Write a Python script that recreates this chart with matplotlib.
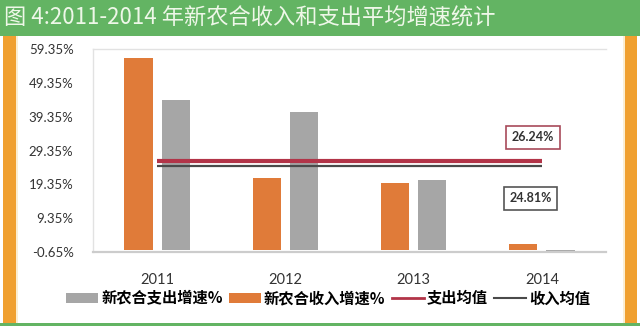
import matplotlib
matplotlib.use("Agg")
import matplotlib.pyplot as plt
from matplotlib.patches import Rectangle, Patch
from matplotlib.lines import Line2D

plt.rcParams['font.family'] = ['Noto Sans CJK SC', 'DejaVu Sans']

# data
years = ['2011', '2012', '2013', '2014']
income_growth = [56.8, 21.1, 19.7, 1.64]      # 新农合收入增速%
spend_growth = [44.4, 40.6, 20.6, -0.65]      # 新农合支出增速%
spend_avg = 26.24
income_avg = 24.81
y_ticks = [-0.65, 9.35, 19.35, 29.35, 39.35, 49.35, 59.35]

title = '图 4:2011-2014 年新农合收入和支出平均增速统计'

GREEN = '#63b463'
ORANGE_FRAME = '#f0a030'
ORANGE = '#e07b39'
GRAY = '#a6a6a6'
RED = '#b23448'
DARK = '#4a4a4a'

W, H = 640, 326
fig = plt.figure(figsize=(W / 100, H / 100), dpi=100)
fig.patch.set_facecolor('white')

def px_rect(x0, y0, x1, y1, color, z=0):
    fig.patches.append(Rectangle((x0 / W, 1 - y1 / H), (x1 - x0) / W, (y1 - y0) / H,
                                 transform=fig.transFigure, facecolor=color,
                                 edgecolor='none', zorder=z))

# frame: green header/footer, orange side strips
px_rect(0, 0, W, 36, GREEN)
px_rect(0, 323, W, H, GREEN)
px_rect(3, 36, 16, 323, ORANGE_FRAME)
px_rect(16, 36, 18, 323, '#fbeed2')
px_rect(625, 36, 637, 323, ORANGE_FRAME)
px_rect(623, 36, 625, 323, '#fbeed2')

fig.text(4 / W, 1 - 18 / H, title, color='#eef7e8', fontsize=16,
         ha='left', va='center')

ax = fig.add_axes([93 / W, 1 - 252 / H, 513 / W, 203 / H])
ax.set_facecolor('white')

x = range(len(years))
bw = 0.22
off = 0.145
ax.bar([i - off for i in x], income_growth, width=bw, color=ORANGE, zorder=2)
ax.bar([i + off for i in x], spend_growth, width=bw, color=GRAY, zorder=2)

ax.plot([0, 3], [spend_avg, spend_avg], color=RED, lw=3.0, zorder=3,
        solid_capstyle='butt')
ax.plot([0, 3], [income_avg, income_avg], color=DARK, lw=1.6, zorder=3,
        solid_capstyle='butt')

ax.text(2.93, 33.2, f'{spend_avg:.2f}%', family='Lato', fontweight='bold',
        fontsize=9, color='#333333', ha='center', va='center', zorder=4,
        bbox=dict(boxstyle='square,pad=0.45', facecolor='white',
                  edgecolor='#a84a5a', linewidth=1.2))
ax.text(2.91, 15.2, f'{income_avg:.2f}%', family='Lato', fontweight='bold',
        fontsize=9, color='#333333', ha='center', va='center', zorder=4,
        bbox=dict(boxstyle='square,pad=0.45', facecolor='white',
                  edgecolor='#555555', linewidth=1.2))

ax.set_xlim(-0.5, 3.5)
ax.set_ylim(-0.65, 59.35)
ax.set_xticks(list(x))
ax.set_xticklabels(years, family='Lato', fontsize=10.5, color='#333333')
ax.set_yticks(y_ticks)
ax.set_yticklabels([f'{v:.2f}%' for v in y_ticks], family='Lato',
                   fontsize=9.5, color='#333333')
ax.tick_params(axis='both', length=0)
ax.tick_params(axis='y', pad=14)
ax.tick_params(axis='x', pad=15)

for s in ['left', 'top']:
    ax.spines[s].set_color('#e2e2e2')
    ax.spines[s].set_linewidth(1.0)
ax.spines['right'].set_visible(False)
ax.spines['bottom'].set_color('#cccccc')
ax.spines['bottom'].set_linewidth(1.6)

handles = [
    Patch(facecolor=GRAY, edgecolor='none'),
    Patch(facecolor=ORANGE, edgecolor='none'),
    Line2D([0], [0], color=RED, lw=2),
    Line2D([0], [0], color=DARK, lw=1.5),
]
labels = ['新农合支出增速%', '新农合收入增速%', '支出均值', '收入均值']
fig.legend(handles, labels, loc='center', bbox_to_anchor=(328 / W, 1 - 298.5 / H),
           ncol=4, frameon=False, handlelength=2.1, handleheight=0.55,
           handletextpad=0.2, columnspacing=0.4, borderaxespad=0,
           prop={'family': ['Noto Sans CJK SC', 'DejaVu Sans'],
                 'weight': 'bold', 'size': 11})

fig.savefig('out.png', dpi=100)
